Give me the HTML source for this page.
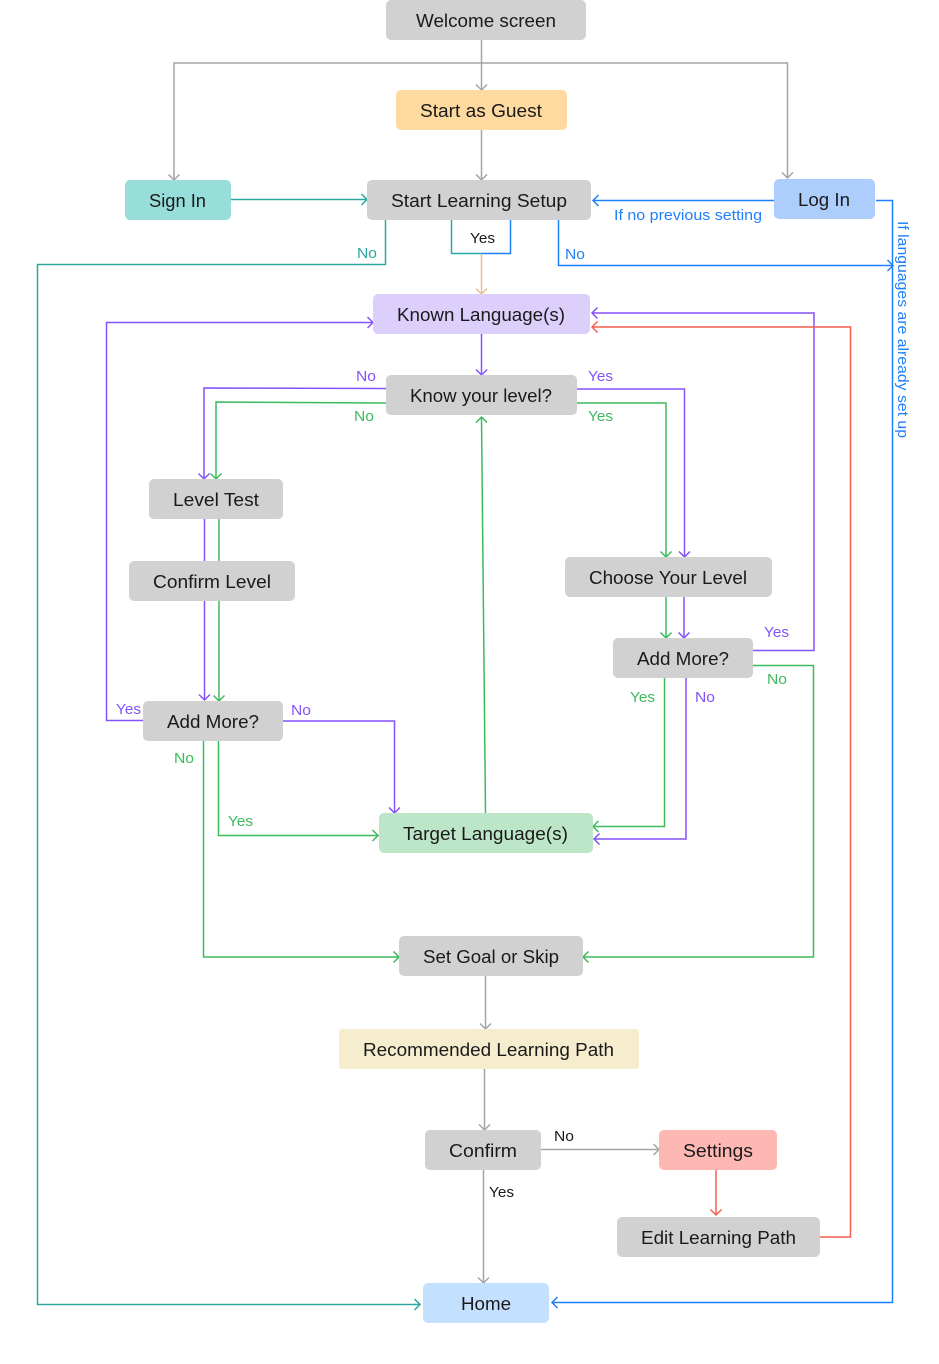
<!DOCTYPE html>
<html><head><meta charset="utf-8"><style>
html,body{margin:0;padding:0;background:#fff;}
svg{display:block;}
text{font-family:"Liberation Sans",sans-serif;}
.n{font-size:18px;fill:#1a1a1a;}
.s{font-size:14.5px;}
path{fill:none;stroke-width:1.5;}
.g{stroke:#a5a3a6}.t{stroke:#2ba7a0}.b{stroke:#2080fb}.p{stroke:#8552fb}.e{stroke:#3dba5d}.r{stroke:#f4604f}.o{stroke:#e8bf90}
</style></head><body>
<svg width="939" height="1364" viewBox="0 0 939 1364" xmlns="http://www.w3.org/2000/svg">
<defs>
<marker id="mg" markerUnits="userSpaceOnUse" markerWidth="14" markerHeight="14" refX="10" refY="7" orient="auto-start-reverse"><path d="M4.5 1.5L10 7L4.5 12.5" stroke="#a5a3a6"/></marker>
<marker id="mt" markerUnits="userSpaceOnUse" markerWidth="14" markerHeight="14" refX="10" refY="7" orient="auto"><path d="M4.5 1.5L10 7L4.5 12.5" stroke="#2ba7a0"/></marker>
<marker id="mb" markerUnits="userSpaceOnUse" markerWidth="14" markerHeight="14" refX="10" refY="7" orient="auto"><path d="M4.5 1.5L10 7L4.5 12.5" stroke="#2080fb"/></marker>
<marker id="mp" markerUnits="userSpaceOnUse" markerWidth="14" markerHeight="14" refX="10" refY="7" orient="auto"><path d="M4.5 1.5L10 7L4.5 12.5" stroke="#8552fb"/></marker>
<marker id="me" markerUnits="userSpaceOnUse" markerWidth="14" markerHeight="14" refX="10" refY="7" orient="auto"><path d="M4.5 1.5L10 7L4.5 12.5" stroke="#3dba5d"/></marker>
<marker id="mr" markerUnits="userSpaceOnUse" markerWidth="14" markerHeight="14" refX="10" refY="7" orient="auto"><path d="M4.5 1.5L10 7L4.5 12.5" stroke="#f4604f"/></marker>
<marker id="mo" markerUnits="userSpaceOnUse" markerWidth="14" markerHeight="14" refX="10" refY="7" orient="auto"><path d="M4.5 1.5L10 7L4.5 12.5" stroke="#e8bf90"/></marker>
</defs>

<!-- grey -->
<path class="g" d="M481.5 40V90" marker-end="url(#mg)"/>
<path class="g" d="M174 180V63H787.5V178" marker-start="url(#mg)" marker-end="url(#mg)"/>
<path class="g" d="M481.5 130V180" marker-end="url(#mg)"/>
<path class="g" d="M485.5 976V1029" marker-end="url(#mg)"/>
<path class="g" d="M484.5 1069V1130" marker-end="url(#mg)"/>
<path class="g" d="M483.5 1170V1283" marker-end="url(#mg)"/>
<path class="g" d="M541 1149.5H659" marker-end="url(#mg)"/>

<!-- teal -->
<path class="t" d="M231 199.5H367" marker-end="url(#mt)"/>
<path class="t" d="M385.5 220V264.5H37.5V1304.5H420" marker-end="url(#mt)"/>
<path class="t" d="M451.5 220V253.5H481"/>

<!-- blue -->
<path class="b" d="M510.5 220V253.5H481"/>
<path class="b" d="M774 200.5H593" marker-end="url(#mb)"/>
<path class="b" d="M558.5 220V265.5H893" marker-end="url(#mb)"/>
<path class="b" d="M876 200.5H892.5V1302.5H552" marker-end="url(#mb)"/>

<!-- tan -->
<path class="o" d="M481.5 254V294" marker-end="url(#mo)"/>

<!-- purple -->
<path class="p" d="M481.5 334V375" marker-end="url(#mp)"/>
<path class="p" d="M143 720.5H106.5V322.5H373" marker-end="url(#mp)"/>
<path class="p" d="M386 388.5L204 388V479" marker-end="url(#mp)"/>
<path class="p" d="M577 389H684.5V557" marker-end="url(#mp)"/>
<path class="p" d="M204.5 519V561"/>
<path class="p" d="M204.5 601V700" marker-end="url(#mp)"/>
<path class="p" d="M684 597V638" marker-end="url(#mp)"/>
<path class="p" d="M753 650.5H814V313H592" marker-end="url(#mp)"/>
<path class="p" d="M686 678V839H594" marker-end="url(#mp)"/>
<path class="p" d="M283 721H394.5V813" marker-end="url(#mp)"/>

<!-- green -->
<path class="e" d="M386 403L216 402V479" marker-end="url(#me)"/>
<path class="e" d="M577 403H666V557" marker-end="url(#me)"/>
<path class="e" d="M219 519V561"/>
<path class="e" d="M219 601V701" marker-end="url(#me)"/>
<path class="e" d="M666 597V638" marker-end="url(#me)"/>
<path class="e" d="M753 665.5H813.5V957H583" marker-end="url(#me)"/>
<path class="e" d="M664.5 678V826.5H593" marker-end="url(#me)"/>
<path class="e" d="M218.5 741V835.5H378" marker-end="url(#me)"/>
<path class="e" d="M203.5 741V957H399" marker-end="url(#me)"/>
<path class="e" d="M485.5 813L481.5 417" marker-end="url(#me)"/>

<!-- red -->
<path class="r" d="M820 1237H850.5V327H592" marker-end="url(#mr)"/>
<path class="r" d="M716 1170V1215" marker-end="url(#mr)"/>

<!-- nodes -->
<g stroke="none">
<rect x="386" y="0" width="200" height="40" rx="5" fill="#d1d1d1"/>
<rect x="396" y="90" width="171" height="40" rx="5" fill="#fed9a0"/>
<rect x="125" y="180" width="106" height="40" rx="5" fill="#97dedb"/>
<rect x="367" y="180" width="224" height="40" rx="5" fill="#d1d1d1"/>
<rect x="774" y="179" width="101" height="40" rx="5" fill="#adcdfd"/>
<rect x="373" y="294" width="217" height="40" rx="5" fill="#ddcffc"/>
<rect x="386" y="375" width="191" height="40" rx="5" fill="#d1d1d1"/>
<rect x="149" y="479" width="134" height="40" rx="5" fill="#d1d1d1"/>
<rect x="129" y="561" width="166" height="40" rx="5" fill="#d1d1d1"/>
<rect x="565" y="557" width="207" height="40" rx="5" fill="#d1d1d1"/>
<rect x="613" y="638" width="140" height="40" rx="5" fill="#d1d1d1"/>
<rect x="143" y="701" width="140" height="40" rx="5" fill="#d1d1d1"/>
<rect x="379" y="813" width="214" height="40" rx="5" fill="#bde5c8"/>
<rect x="399" y="936" width="184" height="40" rx="5" fill="#d1d1d1"/>
<rect x="339" y="1029" width="300" height="40" rx="3" fill="#f5edce"/>
<rect x="425" y="1130" width="116" height="40" rx="5" fill="#d1d1d1"/>
<rect x="659" y="1130" width="118" height="40" rx="5" fill="#feb8b3"/>
<rect x="617" y="1217" width="203" height="40" rx="5" fill="#d1d1d1"/>
<rect x="423" y="1283" width="126" height="40" rx="5" fill="#c3e0fe"/>
</g>

<!-- node labels -->
<g>
<text class="n" x="416" y="27" textLength="140" lengthAdjust="spacingAndGlyphs">Welcome screen</text>
<text class="n" x="420" y="117" textLength="122" lengthAdjust="spacingAndGlyphs">Start as Guest</text>
<text class="n" x="149" y="207" textLength="57" lengthAdjust="spacingAndGlyphs">Sign In</text>
<text class="n" x="391" y="207" textLength="176" lengthAdjust="spacingAndGlyphs">Start Learning Setup</text>
<text class="n" x="798" y="206" textLength="52" lengthAdjust="spacingAndGlyphs">Log In</text>
<text class="n" x="397" y="321" textLength="168" lengthAdjust="spacingAndGlyphs">Known Language(s)</text>
<text class="n" x="410" y="402" textLength="142" lengthAdjust="spacingAndGlyphs">Know your level?</text>
<text class="n" x="173" y="506" textLength="86" lengthAdjust="spacingAndGlyphs">Level Test</text>
<text class="n" x="153" y="588" textLength="118" lengthAdjust="spacingAndGlyphs">Confirm Level</text>
<text class="n" x="589" y="584" textLength="158" lengthAdjust="spacingAndGlyphs">Choose Your Level</text>
<text class="n" x="637" y="665" textLength="92" lengthAdjust="spacingAndGlyphs">Add More?</text>
<text class="n" x="167" y="728" textLength="92" lengthAdjust="spacingAndGlyphs">Add More?</text>
<text class="n" x="403" y="840" textLength="165" lengthAdjust="spacingAndGlyphs">Target Language(s)</text>
<text class="n" x="423" y="963" textLength="136" lengthAdjust="spacingAndGlyphs">Set Goal or Skip</text>
<text class="n" x="363" y="1056" textLength="251" lengthAdjust="spacingAndGlyphs">Recommended Learning Path</text>
<text class="n" x="449" y="1157" textLength="68" lengthAdjust="spacingAndGlyphs">Confirm</text>
<text class="n" x="683" y="1157" textLength="70" lengthAdjust="spacingAndGlyphs">Settings</text>
<text class="n" x="641" y="1244" textLength="155" lengthAdjust="spacingAndGlyphs">Edit Learning Path</text>
<text class="n" x="461" y="1310" textLength="50" lengthAdjust="spacingAndGlyphs">Home</text>
</g>

<!-- edge labels -->
<text class="s" x="470" y="243" fill="#1a1a1a" textLength="25" lengthAdjust="spacingAndGlyphs">Yes</text>
<text class="s" x="357" y="258" fill="#2ba7a0" textLength="20" lengthAdjust="spacingAndGlyphs">No</text>
<text class="s" x="565" y="259" fill="#2080fb" textLength="20" lengthAdjust="spacingAndGlyphs">No</text>
<text class="s" x="614" y="220" fill="#2080fb" textLength="148" lengthAdjust="spacingAndGlyphs">If no previous setting</text>
<text class="s" x="356" y="381" fill="#8552fb" textLength="20" lengthAdjust="spacingAndGlyphs">No</text>
<text class="s" x="354" y="421" fill="#3dba5d" textLength="20" lengthAdjust="spacingAndGlyphs">No</text>
<text class="s" x="588" y="381" fill="#8552fb" textLength="25" lengthAdjust="spacingAndGlyphs">Yes</text>
<text class="s" x="588" y="421" fill="#3dba5d" textLength="25" lengthAdjust="spacingAndGlyphs">Yes</text>
<text class="s" x="764" y="637" fill="#8552fb" textLength="25" lengthAdjust="spacingAndGlyphs">Yes</text>
<text class="s" x="767" y="684" fill="#3dba5d" textLength="20" lengthAdjust="spacingAndGlyphs">No</text>
<text class="s" x="630" y="702" fill="#3dba5d" textLength="25" lengthAdjust="spacingAndGlyphs">Yes</text>
<text class="s" x="695" y="702" fill="#8552fb" textLength="20" lengthAdjust="spacingAndGlyphs">No</text>
<text class="s" x="116" y="714" fill="#8552fb" textLength="25" lengthAdjust="spacingAndGlyphs">Yes</text>
<text class="s" x="291" y="715" fill="#8552fb" textLength="20" lengthAdjust="spacingAndGlyphs">No</text>
<text class="s" x="174" y="763" fill="#3dba5d" textLength="20" lengthAdjust="spacingAndGlyphs">No</text>
<text class="s" x="228" y="826" fill="#3dba5d" textLength="25" lengthAdjust="spacingAndGlyphs">Yes</text>
<text class="s" x="554" y="1141" fill="#1a1a1a" textLength="20" lengthAdjust="spacingAndGlyphs">No</text>
<text class="s" x="489" y="1197" fill="#1a1a1a" textLength="25" lengthAdjust="spacingAndGlyphs">Yes</text>
<text class="s" transform="translate(898 221) rotate(90)" fill="#2080fb" textLength="217" lengthAdjust="spacingAndGlyphs">If languages are already set up</text>
</svg>
</body></html>
